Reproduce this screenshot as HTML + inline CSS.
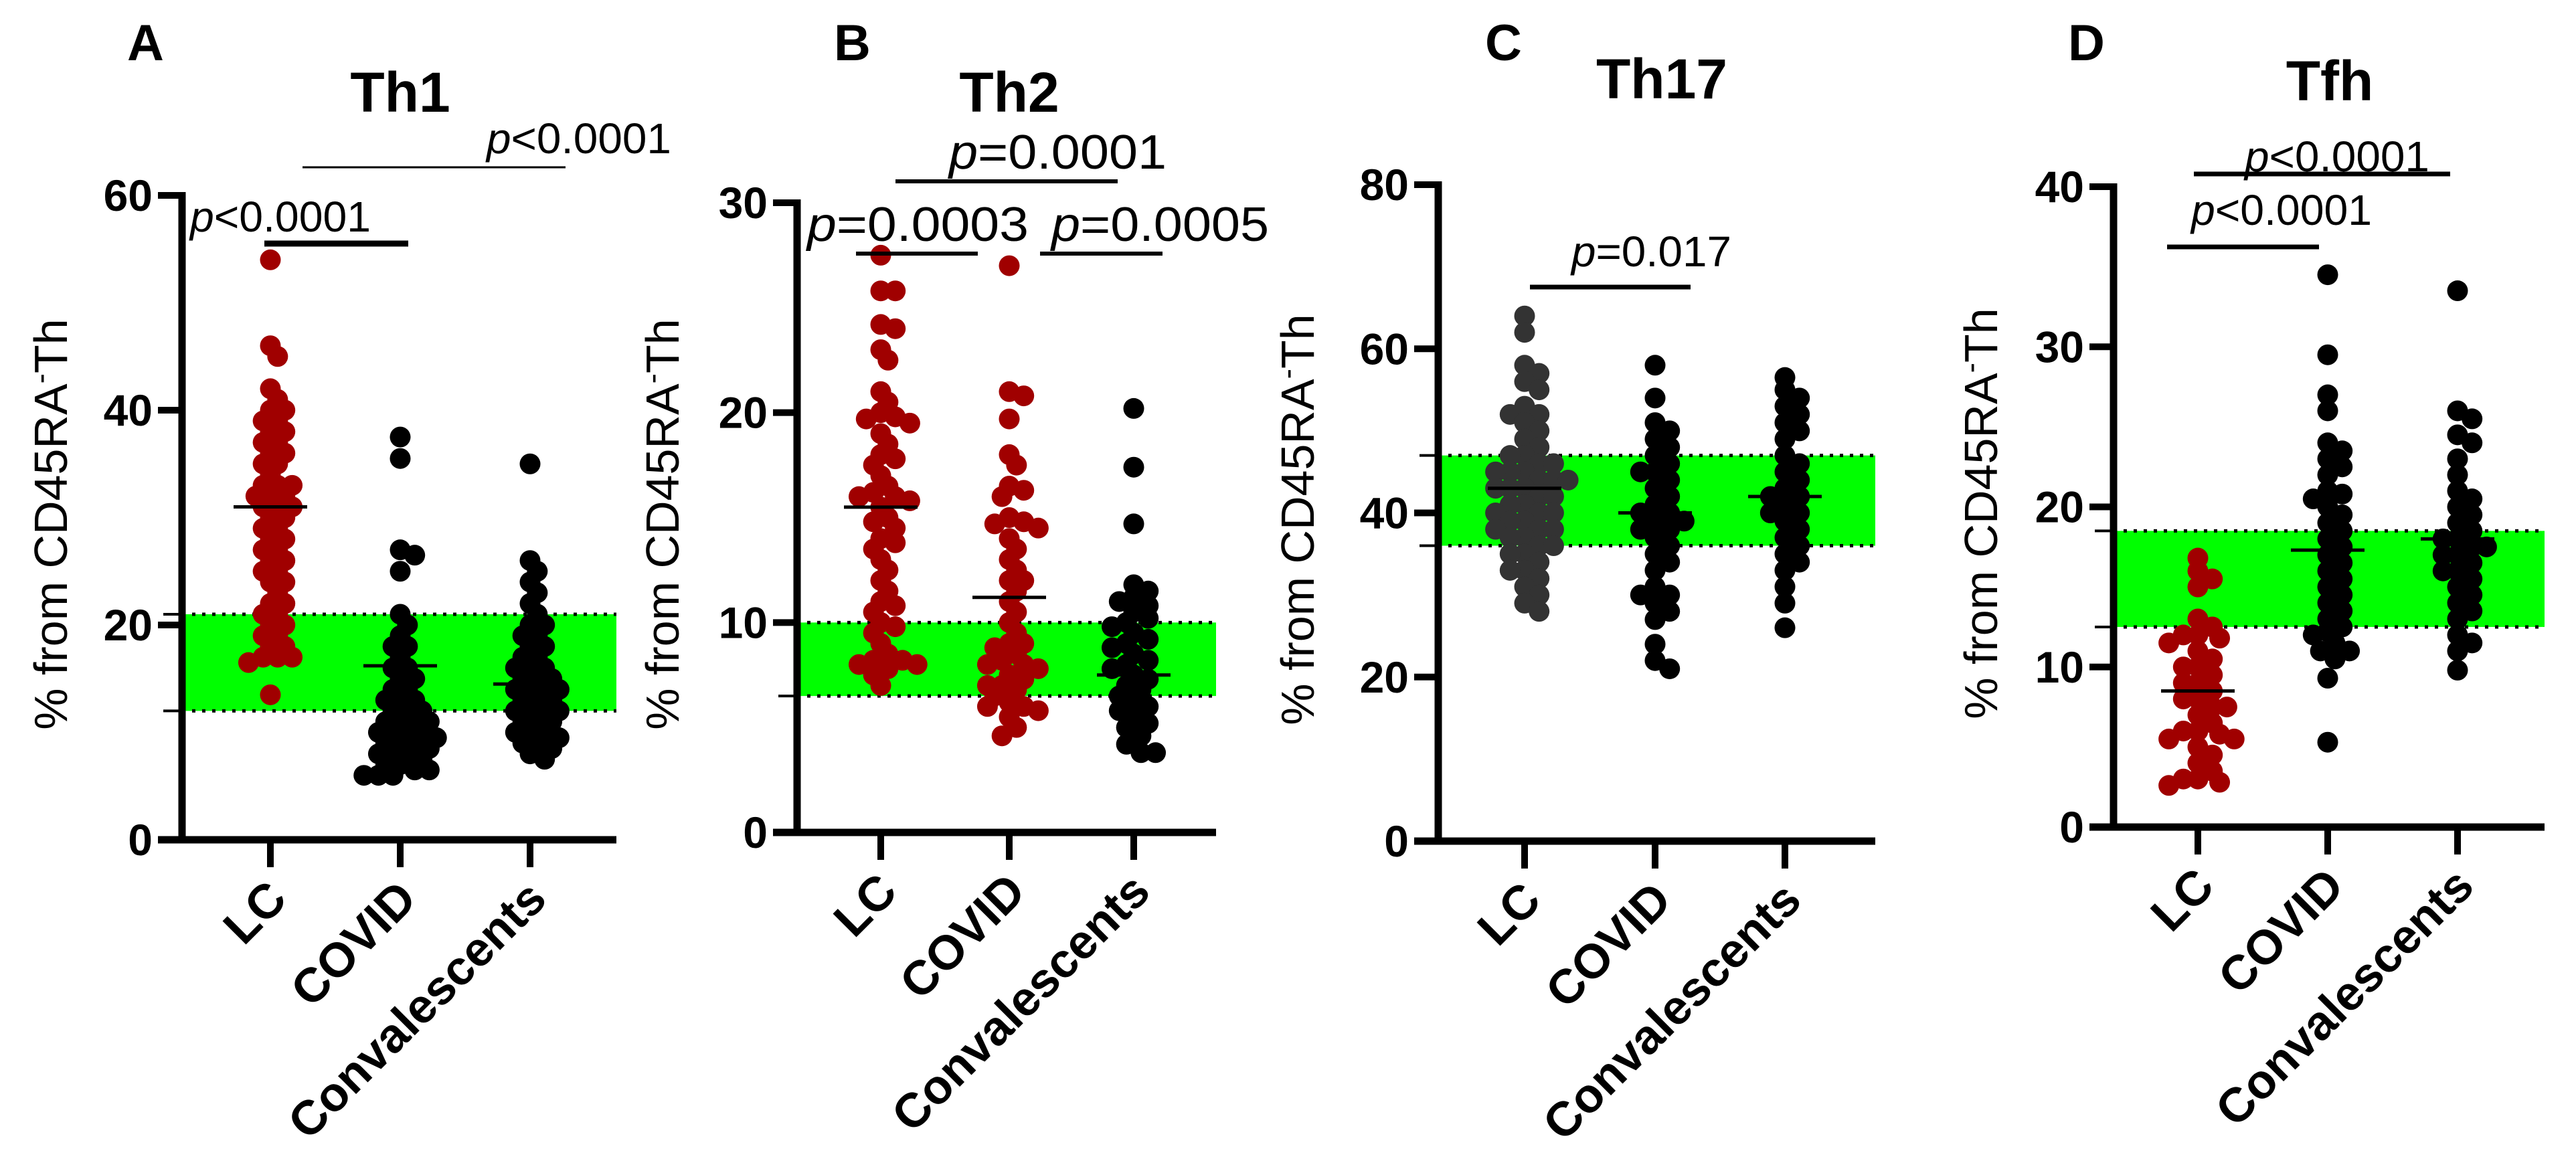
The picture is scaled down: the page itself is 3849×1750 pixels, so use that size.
<!DOCTYPE html>
<html><head><meta charset="utf-8"><style>
html,body{margin:0;padding:0;background:#fff;}
svg{display:block;}
text{font-family:"Liberation Sans",Arial,sans-serif;}
</style></head><body>
<svg id="fig" width="3849" height="1750" viewBox="0 0 3849 1750" xmlns="http://www.w3.org/2000/svg"></svg>
<script>
// ---- data ----
const categories = ["LC","COVID","Convalescents"];
const panelLetters = ["A","B","C","D"];
const panelTitles = ["Th1","Th2","Th17","Tfh"];
const yMaxes = [60,30,80,40];
const yTickLabelsA = [0,20,40,60];
const yTickLabelsB = [0,10,20,30];
const yTickLabelsC = [0,20,40,60,80];
const yTickLabelsD = [0,10,20,30,40];
const bandsLow = [12,6.5,36,12.5];
const bandsHigh = [21,10,47,18.5];
const mediansA = [31,16.2,14.5];
const mediansB = [15.5,11.2,7.5];
const mediansC = [43,40,42];
const mediansD = [8.5,17.3,18];
const A_LC = [54,46,45,42,41,40,40,39,39,38,38,37,37,36,36,35,35,34,33,33,33,32,32,32,31,31,31,30,30,29,29,28,28,27,27,26,26,25,25,24,24,23,22,22,21,21,20,20,19,19,18,18,17,17,17,16.5,13.5];
const A_COVID = [37.5,35.5,27,26.5,25,21,20,19,18,18,17,16,16,15,15,14,14,13,13,13,12,12,12,11,11,11,11,10,10,10,10,9.5,9,9,9,8.5,8,8,8,7.5,7,7,6.5,6.5,6,6,6];
const A_CONV = [35,26,25,24,23,22,21,20,20,19,19,18,18,17,17,16,16,16,15,15,15,14,14,14,14,13,13,13,12,12,12,12,11,11,11,10,10,10,9.5,9,9,8.5,8,7.5];
const B_LC = [27.5,25.8,25.8,24.2,24,23,22.5,21,20.5,20,19.8,19.7,19.5,19,18.5,18,17.8,17.5,17,16.5,16.2,16,16,15.8,15.5,15,14.8,14.5,14,13.8,13.5,13,12.5,12,11.5,11,10.8,10.5,10,9.8,9.5,9,8.5,8.2,8.2,8,8,7.8,7.5,7];
const B_COVID = [27,21,20.8,19.7,18,17.5,16.5,16.3,16,15,14.8,14.7,14.5,14,13.5,13,12.5,12,12,11.5,11,10.5,10,9.5,9,9,8.8,8.5,8.2,8,8,7.8,7.5,7.3,7,7,6.8,6.5,6.2,6,6,5.8,5.5,5,4.6];
const B_CONV = [20.2,17.4,14.7,11.8,11.5,11.2,11,10.8,10.5,10.2,10,9.8,9.5,9.2,9,8.8,8.5,8.2,8,7.8,7.5,7.3,7,6.8,6.5,6.2,6,5.8,5.5,5.2,5,4.6,4.2,3.8,3.8];
const C_LC = [64,62,58,57,56,55,53,52,52,51,50,49,48,47,47,46,46,45,45,45,44,44,44,43,43,43,42,42,41,41,40,40,40,39,39,38,38,38,37,37,36,36,35,35,34,33,33,32,31,30,29,28];
const C_COVID = [58,54,51,50,49,48,47,46,45,45,44,43,42,41,40,40,39,39,38,38,37,36,35,34,33,31,30,30,29,28,27,24,22,21];
const C_CONV = [56.5,55,54,53,52,51,50,49,47,46,45,44,43,42,42,41,40,40,39,38,37,36,35,34,33,31,29,26];
const D_LC = [16.8,16,15.5,15,13,12.5,12,12,11.8,11.5,11,10.5,10,10,9.5,9,9,8.5,8,8,7.5,7.5,7,6.5,6,6,5.8,5.5,5.5,5,4.5,4,3.5,3,3,2.8,2.6];
const D_COVID = [34.5,29.5,27,26,24,23.5,23,22.5,22,21,20.8,20.5,20,19.5,19,18.5,18,17.5,17,16.5,16,15.5,15,14.5,14,13.5,13,12.5,12.2,12,11.5,11,11,10.5,9.3,5.3];
const D_CONV = [33.5,26,25.5,24.5,24,23,22,21,20.5,20,19.5,19,18.5,18,18,17.5,17.5,17,17,16.5,16,16,15.5,15,14.5,14,13.5,13,12,11.5,11,9.8];
const statLabels = [["p|<0.0001","p|<0.0001"],["p|=0.0003","p|=0.0005","p|=0.0001"],["p|=0.017"],["p|<0.0001","p|<0.0001"]];

// ---- layout (pixels) ----
const NS="http://www.w3.org/2000/svg";
const svg=document.getElementById('fig');
function mk(tag,attrs,parent){const e=document.createElementNS(NS,tag);for(const k in attrs)e.setAttribute(k,attrs[k]);(parent||svg).appendChild(e);return e;}
const panels=[
 {ax:272,top:292,bot:1255,right:921,cx:[404,598,792],ticks:yTickLabelsA,med:mediansA,data:[A_LC,A_COVID,A_CONV],col:["#a00000","#000","#000"],letter:[190,90],title:[598,167],ylab:100,
  stats:[{x1:395,x2:610,y:364,w:9,tx:284,ty:346,len:270,fs:64},{x1:452,x2:845,y:250,w:3,tx:727,ty:229,len:276,fs:64}]},
 {ax:1191,top:303,bot:1244,right:1817,cx:[1316,1508,1694],ticks:yTickLabelsB,med:mediansB,data:[B_LC,B_COVID,B_CONV],col:["#a00000","#a00000","#000"],letter:[1246,90],title:[1508,167],ylab:1014,
  stats:[{x1:1279,x2:1461,y:379,w:6,tx:1206,ty:360,len:331,fs:72},{x1:1554,x2:1737,y:379,w:6,tx:1571,ty:360,len:325,fs:72},{x1:1338,x2:1670,y:271,w:6,tx:1418,ty:252,len:325,fs:72}]},
 {ax:2149,top:276,bot:1257,right:2802,cx:[2278,2473,2667],ticks:yTickLabelsC,med:mediansC,data:[C_LC,C_COVID,C_CONV],col:["#333","#000","#000"],letter:[2219,90],title:[2483,147],ylab:1963,
  stats:[{x1:2286,x2:2526,y:429,w:7,tx:2348,ty:398,len:239,fs:64}]},
 {ax:3158,top:279,bot:1236,right:3802,cx:[3284,3478,3672],ticks:yTickLabelsD,med:mediansD,data:[D_LC,D_COVID,D_CONV],col:["#a00000","#000","#000"],letter:[3090,90],title:[3481,150],ylab:2984,
  stats:[{x1:3238,x2:3465,y:369,w:7,tx:3274,ty:336,len:270,fs:64},{x1:3278,x2:3661,y:260,w:7,tx:3354,ty:256,len:276,fs:64}]}
];
const R=15.5;
panels.forEach((p,pi)=>{
  const g=mk('g',{});
  
  
  const ymax=yMaxes[pi];
  const y=v=>p.bot-(v/ymax)*(p.bot-p.top);
  const band=mk('rect',{x:p.ax,y:y(bandsHigh[pi]),width:p.right-p.ax,height:y(bandsLow[pi])-y(bandsHigh[pi]),fill:'#00ff00'},g);
  
  
  [bandsLow[pi],bandsHigh[pi]].forEach(v=>{
    const l=mk('line',{x1:p.ax,x2:p.right,y1:y(v),y2:y(v),stroke:'#000','stroke-width':5,'stroke-dasharray':'5 10'},g);
    
    
    const t=mk('line',{x1:p.ax-28,x2:p.ax,y1:y(v),y2:y(v),stroke:'#000','stroke-width':4},g);
    
    
  });
  p.data.forEach((arr,ci)=>{
    const placed=[];
    const sorted=arr.slice().sort((a,b)=>b-a);
    sorted.forEach(v=>{
      const py=y(v);let off=0;
      for(let k=0;k<40;k++){
        const cand=k===0?0:(k%2?1:-1)*Math.ceil(k/2)*R*0.7;
        if(placed.every(q=>Math.hypot(q[0]-cand,q[1]-py)>=R*1.1)){off=cand;break;}
      }
      placed.push([off,py]);
      const c=mk('circle',{cx:p.cx[ci]+off,cy:py,r:R,fill:p.col[ci]},g);
      
      
    });
    const m=mk('line',{x1:p.cx[ci]-55,x2:p.cx[ci]+55,y1:y(p.med[ci]),y2:y(p.med[ci]),stroke:'#000','stroke-width':5},g);
    
    
  });
  const ya=mk('line',{x1:p.ax,x2:p.ax,y1:p.top-5,y2:p.bot+5,stroke:'#000','stroke-width':11},g);
  
  
  const xa=mk('line',{x1:p.ax-36,x2:p.right,y1:p.bot,y2:p.bot,stroke:'#000','stroke-width':11},g);
  
  
  p.ticks.forEach(v=>{
    const t=mk('line',{x1:p.ax-36,x2:p.ax,y1:y(v),y2:y(v),stroke:'#000','stroke-width':10},g);
    
    
    const tl=mk('text',{x:p.ax-44,y:y(v)+23,'text-anchor':'end','font-size':66,'font-weight':'bold'},g);
    tl.textContent=v;
    
    
  });
  p.cx.forEach((cx,ci)=>{
    const t=mk('line',{x1:cx,x2:cx,y1:p.bot,y2:p.bot+41,stroke:'#000','stroke-width':10},g);
    
    
    const tl=mk('text',{x:0,y:0,'text-anchor':'end','font-size':72,'font-weight':'bold',transform:`translate(${cx+28},${p.bot+92}) rotate(-45)`},g);
    tl.textContent=categories[ci];
    
    
  });
  const yl=mk('text',{x:0,y:0,'text-anchor':'middle','font-size':70,transform:`translate(${p.ylab},${(p.top+p.bot)/2+10}) rotate(-90)`},g);
  yl.innerHTML='% from CD45RA<tspan dy="-24" font-size="46">-</tspan><tspan dy="24">Th</tspan>';
  
  
  const lt=mk('text',{x:p.letter[0],y:p.letter[1],'font-size':76,'font-weight':'bold'},g);
  lt.textContent=panelLetters[pi];
  
  
  const tt=mk('text',{x:p.title[0],y:p.title[1],'text-anchor':'middle','font-size':84,'font-weight':'bold'},g);
  tt.textContent=panelTitles[pi];
  
  
  p.stats.forEach((s,si)=>{
    const l=mk('line',{x1:s.x1,x2:s.x2,y1:s.y,y2:s.y,stroke:'#000','stroke-width':s.w},g);
    
    
    const parts=statLabels[pi][si].split('|');
    const st=mk('text',{x:s.tx,y:s.ty,'font-size':s.fs,textLength:s.len,lengthAdjust:'spacingAndGlyphs'},g);
    st.innerHTML='<tspan font-style="italic">'+parts[0]+'</tspan>'+parts[1];
    
    
  });
});
</script>
</body></html>
